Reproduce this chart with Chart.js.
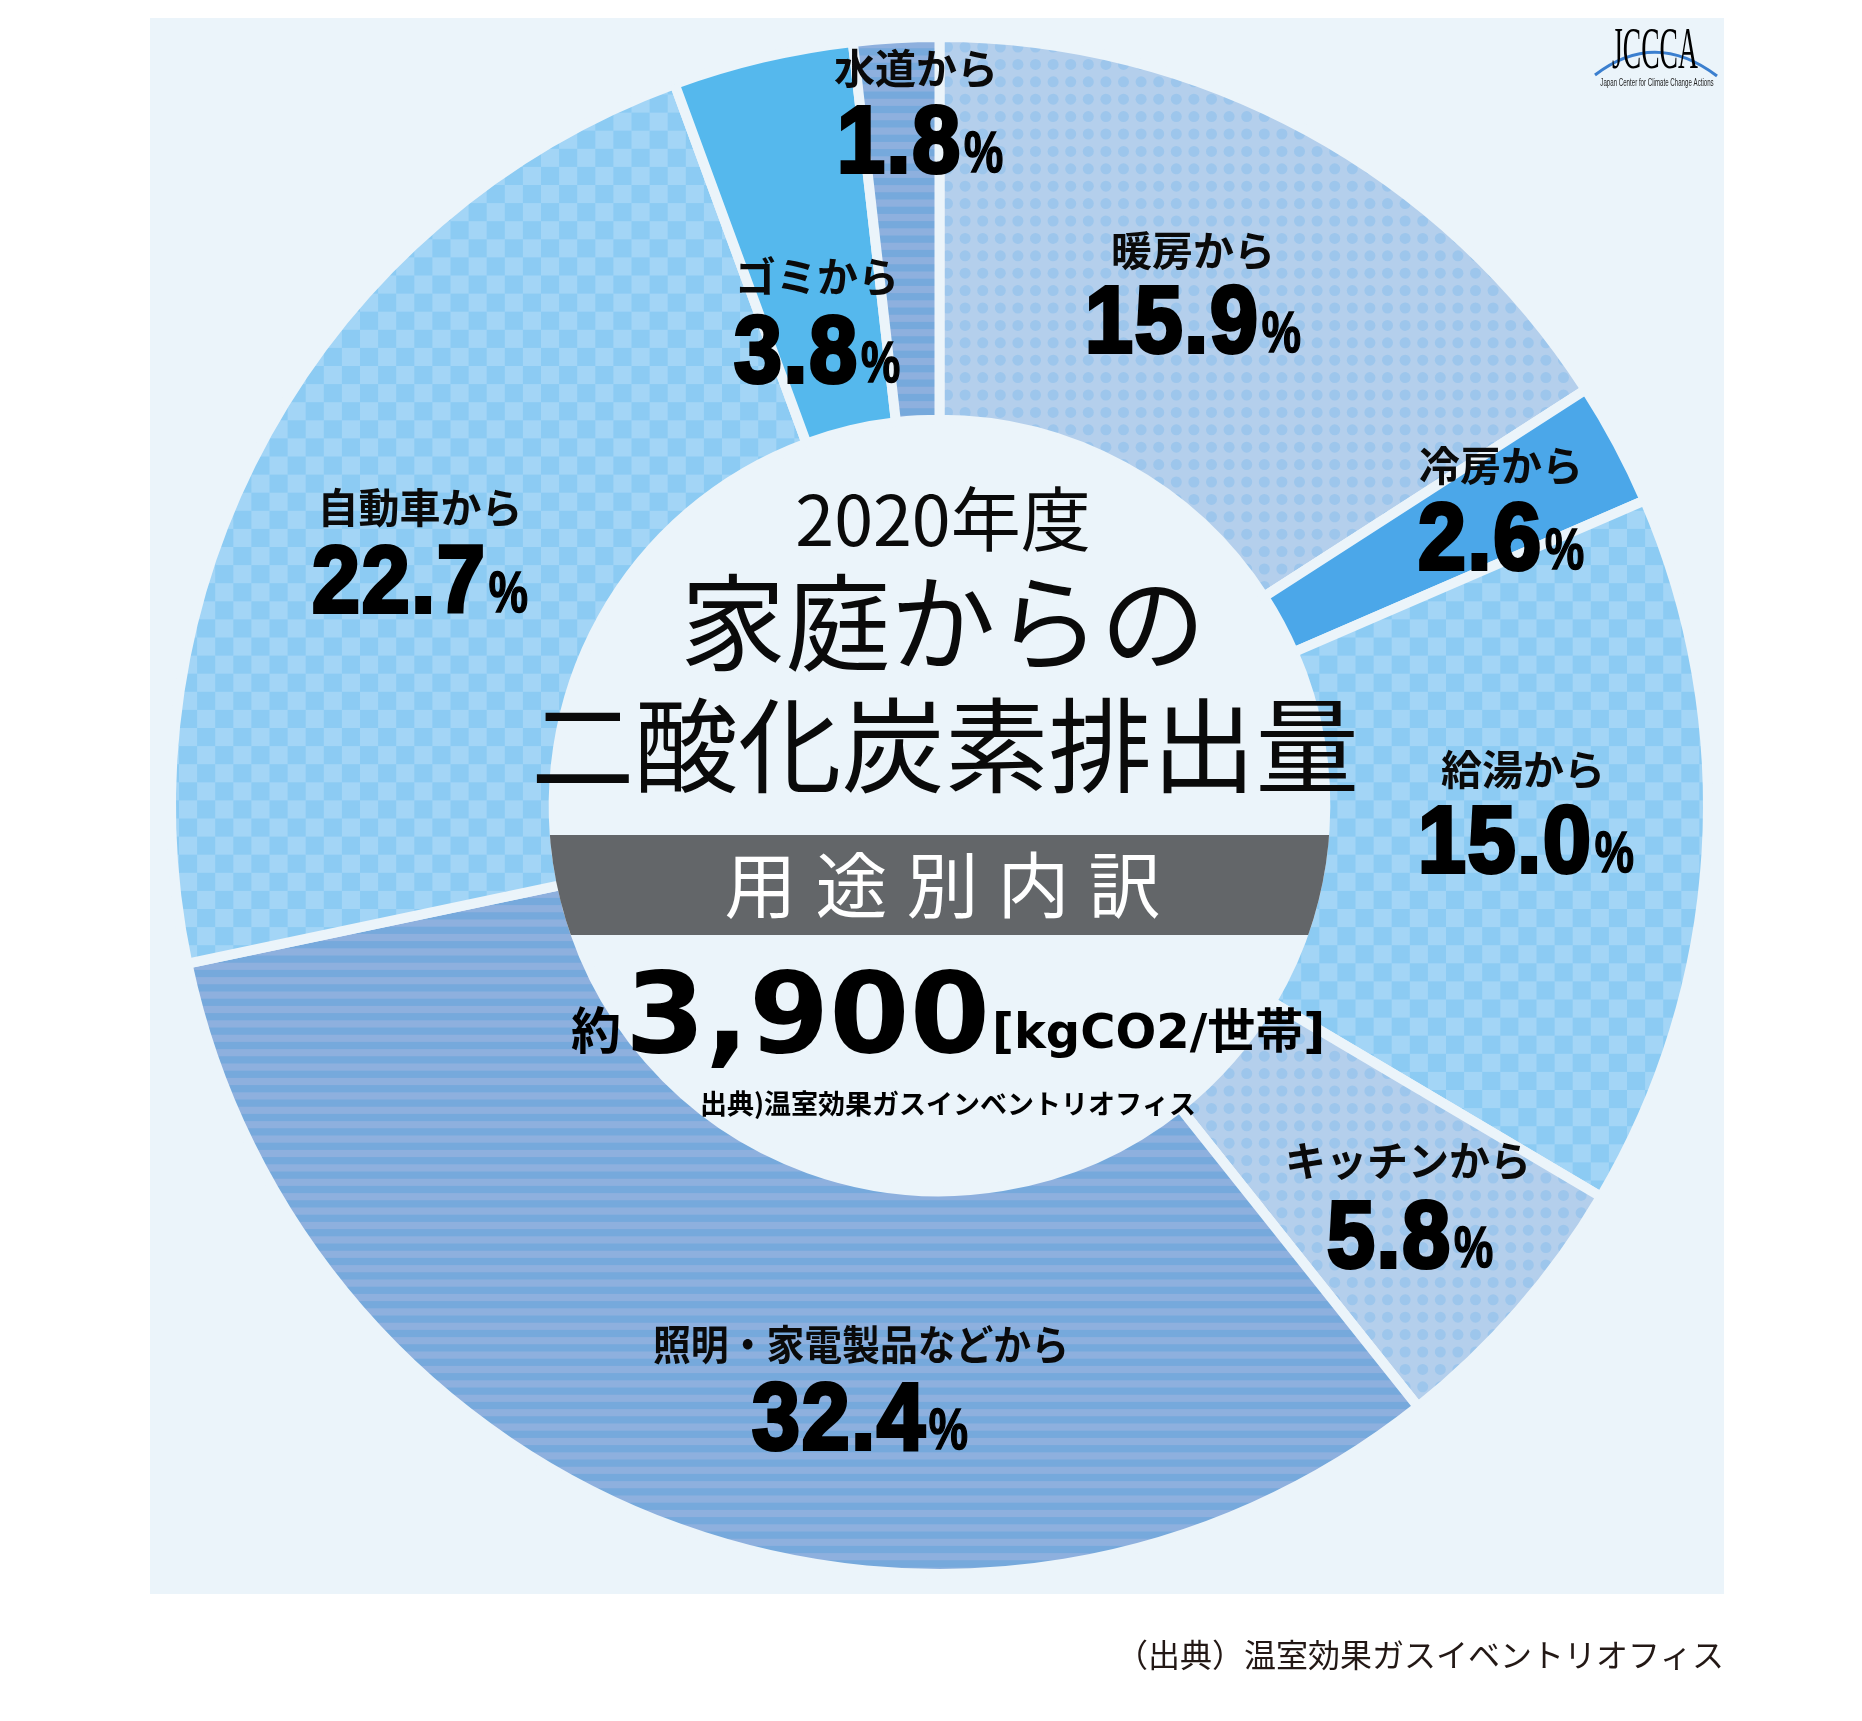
<!DOCTYPE html>
<html lang="ja">
<head>
<meta charset="utf-8">
<title>家庭からの二酸化炭素排出量</title>
<script src="https://cdn.jsdelivr.net/npm/chart.js@4/dist/chart.umd.min.js"></script>
<style>html,body{margin:0;background:#fff}canvas{display:block}</style>
</head>
<body>
<canvas id="c" width="1862" height="1721"></canvas>
<script>
const categories = ['暖房から','冷房から','給湯から','キッチンから','照明・家電製品などから','自動車から','ゴミから','水道から'];
const shares = [15.9, 2.6, 15.0, 5.8, 32.4, 22.7, 3.8, 1.8];
const fills = ['dots','solidA','checks','dots','stripes','checks','solidB','stripes'];

const PANEL = '#EBF4FA';
const SANS = '"Noto Sans CJK JP","Noto Sans",sans-serif';
// label layout: [label centre x, label centre y, number block centre x, number centre y]
const labelLayout = [
  [1193,250,1193,320],[1501,465,1501,537],[1523,769,1526,840],[1408,1160,1410,1235],
  [861,1344,860,1417],[420,507,420,580],[817,276,817,350],[916,68,920,140]
];

function tile(w,h,draw){
  const t=document.createElement('canvas');t.width=w;t.height=h;
  draw(t.getContext('2d'));
  return t.getContext('2d').createPattern(t,'repeat');
}
const swatches={
  solidA:'#4BA7E9',
  solidB:'#55B8ED',
  dots:tile(176,174,g=>{
    g.fillStyle='#B4CFEC';g.fillRect(0,0,176,174);
    g.fillStyle='#9DC6EC';
    for(let i=-1;i<11;i++)for(let j=-1;j<11;j++){
      g.beginPath();g.arc(14.7+i*17.6,12.2+j*17.4,5.5,0,Math.PI*2);g.fill();
    }
  }),
  checks:tile(181,181,g=>{
    g.fillStyle='#A3D5F6';g.fillRect(0,0,181,181);
    g.fillStyle='#8CCBF3';
    for(let i=0;i<12;i++)for(let j=0;j<14;j++){
      if((i+j)%2===0)g.fillRect(-2+i*18.1,-50.3+j*18.1,18.1,18.1);
    }
  }),
  stripes:tile(8,72,g=>{
    g.fillStyle='#8EB0DE';g.fillRect(0,0,8,72);
    g.fillStyle='#76A9DC';
    for(let j=-5;j<5;j++)g.fillRect(0,62.7+j*14.4,8,7.2);
  })
};

const textPlugin={
  id:'panelAndText',
  beforeDraw(chart){
    const g=chart.ctx;
    g.save();
    g.fillStyle='#fff';g.fillRect(0,0,1862,1721);
    g.fillStyle=PANEL;g.fillRect(150,18,1574,1576);
    g.restore();
  },
  afterDatasetsDraw(chart){
    const g=chart.ctx, arc=chart.getDatasetMeta(0).data[0];
    const cx=arc.x, cy=arc.y, hole=arc.innerRadius+5;
    g.save();
    g.textBaseline='middle';g.textAlign='center';g.fillStyle='#000';

    // slice labels and percentages
    categories.forEach((name,i)=>{
      const [lx,ly,nx,ny]=labelLayout[i];
      g.font='700 41px '+SANS;
      g.fillStyle='#0a0a0a';
      g.fillText(name,lx,ly,416);
      const num=shares[i].toFixed(1);
      const sx=0.915;
      g.font='bold 94px "Liberation Sans"';
      g.letterSpacing='2px';
      const w=g.measureText(num).width*sx;
      g.letterSpacing='0px';
      g.font='bold 58px "Liberation Sans"';
      const pw=g.measureText('%').width*0.76;
      const left=nx-(w+pw+2)/2;
      g.save();g.translate(left,ny);g.scale(sx,1);
      g.textAlign='left';g.font='bold 94px "Liberation Sans"';
      g.letterSpacing='2px';
      g.lineWidth=4;g.strokeStyle='#000';g.fillStyle='#000';g.lineJoin='miter';
      g.strokeText(num,0,6);g.fillText(num,0,6);
      g.letterSpacing='0px';
      g.restore();
      g.save();g.translate(left+w+2,ny+16);g.scale(0.76,1);
      g.textAlign='left';g.font='bold 58px "Liberation Sans"';g.fillStyle='#000';
      g.lineWidth=1.5;g.strokeStyle='#000';
      g.strokeText('%',0,0);g.fillText('%',0,0);
      g.restore();
    });

    // centre block
    g.fillStyle='#0a0a0a';
    g.font='400 70px '+SANS;
    g.fillText('2020年度',943,519);
    g.font='400 105px '+SANS;
    g.fillText('家庭からの',943,622);
    g.font='400 103.5px '+SANS;
    g.fillText('二酸化炭素排出量',945,746);

    g.save();
    g.beginPath();g.arc(cx,cy,hole,0,Math.PI*2);g.clip();
    g.fillStyle='#636669';g.fillRect(cx-hole,835,hole*2,100);
    g.restore();
    g.fillStyle='#fff';
    g.font='400 72px '+SANS;
    g.letterSpacing='19px';
    g.fillText('用途別内訳',952,885);
    g.letterSpacing='0px';

    g.fillStyle='#000';
    g.font='700 50px '+SANS;
    g.fillText('約',596,1030);
    g.textAlign='left';
    g.save();g.translate(625,1023);g.scale(1.03,1);
    g.font='bold 112px "DejaVu Sans"';
    g.fillText('3,900',0,0);
    g.restore();
    g.font='bold 48px "DejaVu Sans","Noto Sans CJK JP"';
    g.fillText('[kgCO2/世帯]',992,1036);
    g.textAlign='center';
    g.font='700 27px '+SANS;
    g.fillText('出典)温室効果ガスインベントリオフィス',948,1104);

    // footer source
    g.textAlign='right';g.fillStyle='#231815';
    g.font='400 32px '+SANS;
    g.fillText('（出典）温室効果ガスイベントリオフィス',1724,1655);

    // logo
    g.strokeStyle='#3B7FCF';g.lineWidth=3;
    g.beginPath();g.moveTo(1595,75);g.quadraticCurveTo(1655,29,1717,76);g.stroke();
    g.textAlign='center';g.fillStyle='#000';
    g.save();g.translate(1655,52);g.scale(0.46,1);
    g.font='400 60px "Liberation Serif"';
    g.fillText('JCCCA',0,0);
    g.restore();
    g.save();g.translate(1657,83);g.scale(0.585,1);
    g.font='400 10.5px "Liberation Sans"';
    g.fillStyle='#222';
    g.fillText('Japan Center for Climate Change Actions',0,0);
    g.restore();
    g.restore();
  }
};

new Chart(document.getElementById('c'),{
  type:'doughnut',
  data:{
    labels:categories,
    datasets:[{
      data:shares,
      backgroundColor:fills.map(k=>swatches[k]),
      borderColor:PANEL,
      borderWidth:10,
      hoverOffset:0
    }]
  },
  options:{
    responsive:false,
    devicePixelRatio:1,
    animation:false,
    cutout:'50.2%',
    rotation:0,
    layout:{padding:{left:166,right:149,top:32,bottom:142}},
    plugins:{legend:{display:false},tooltip:{enabled:false},title:{display:false}}
  },
  plugins:[textPlugin]
});
</script>
</body>
</html>
